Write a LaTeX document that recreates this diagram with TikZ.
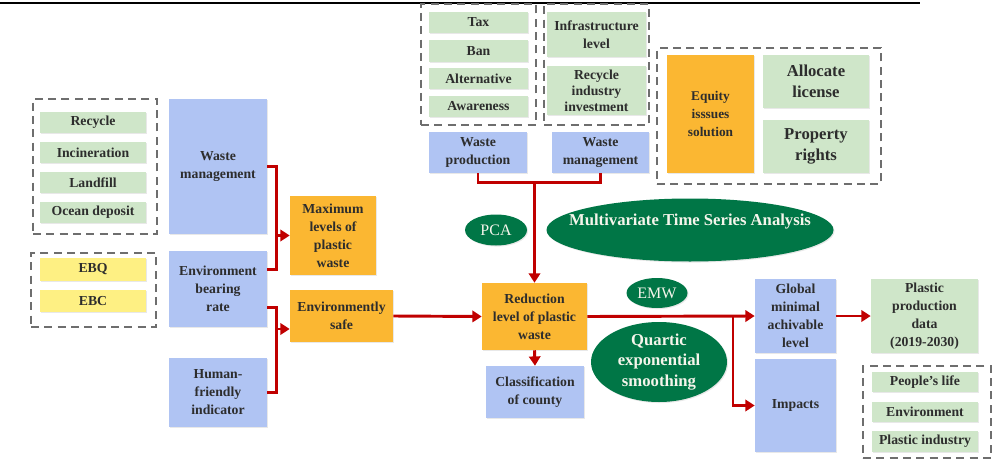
\documentclass[tikz,border=0pt]{standalone}
\usepackage{fontspec}
\setmainfont{Liberation Serif}
\usetikzlibrary{shapes.geometric,arrows.meta,calc,shadows}
\definecolor{cblue}{RGB}{176,196,243}
\definecolor{cgreen}{RGB}{207,230,201}
\definecolor{corange}{RGB}{251,183,50}
\definecolor{cyellow}{RGB}{254,240,131}
\definecolor{cdgreen}{RGB}{0,118,70}
\definecolor{cred}{RGB}{192,0,0}
\definecolor{cgray}{RGB}{110,110,110}
\definecolor{ctext}{RGB}{45,45,45}
\definecolor{cetext}{RGB}{245,245,235}
\newcommand\R[7]{\node[#6, minimum width={(#4-#2)*0.75pt}, minimum height={(#5-#3)*0.75pt}] (#1) at ({(#2+#4)/2},{(#3+#5)/2}) {#7};}
\tikzset{
  box/.style={inner sep=0pt, align=center, font=\bfseries\fontsize{10.3}{13.5}\selectfont, text=ctext,
    drop shadow={shadow xshift=0.8pt, shadow yshift=-0.8pt, opacity=0.18}},
  bl/.style={box, fill=cblue},
  gr/.style={box, fill=cgreen},
  og/.style={box, fill=corange},
  yl/.style={box, fill=cyellow},
  big/.style={font=\bfseries\fontsize{12.5}{15.5}\selectfont},
  grp/.style={draw=cgray, line width=1.4pt, dash pattern=on 6pt off 4pt, inner sep=0pt},
  ell/.style={ellipse, fill=cdgreen, inner sep=0pt, drop shadow={shadow xshift=0.8pt, shadow yshift=-0.8pt, opacity=0.18}},
  etext/.style={text=cetext, align=center},
  rl/.style={draw=cred, line width=2.2pt},
  arr/.style={rl, -{Triangle[length=7pt,width=8.5pt]}}
}
\begin{document}
\begin{tikzpicture}[x=0.75pt, y=-0.75pt]
\useasboundingbox (0,0) rectangle (998,467);
\draw[black, line width=1.5pt] (0,3) -- (920,3);

% dashed groups
\R{g1}{33}{99}{157}{234}{grp}{}
\R{g2}{31}{253}{156}{327}{grp}{}
\R{g3}{421}{4}{536}{125}{grp}{}
\R{g4}{544}{4}{649}{125}{grp}{}
\R{g5}{657}{48}{881}{184}{grp}{}
\R{g6}{863}{366}{991}{458}{grp}{}

% left column
\R{rec}{40}{112}{146}{133}{gr}{Recycle}
\R{inc}{40}{142}{146}{163}{gr}{Incineration}
\R{lan}{40}{172}{146}{193}{gr}{Landfill}
\R{oce}{40}{202}{146}{223}{gr}{Ocean deposit}
\R{ebq}{40}{258}{146}{281}{yl}{EBQ}
\R{ebc}{40}{290}{146}{312}{yl}{EBC}

\R{wm}{169}{99}{267}{234}{bl}{Waste\\management}
\R{ebr}{169}{251}{267}{327}{bl}{Environment\\bearing\\rate}
\R{hf}{169}{358}{267}{427}{bl}{Human-\\friendly\\indicator}

\R{mx}{290}{196}{376}{275}{og}{Maximum\\levels of\\plastic\\waste}
\R{es}{290}{290}{393}{342}{og}{Environmently\\safe}

% top
\R{tax}{429}{12}{528}{33}{gr}{Tax}
\R{ban}{429}{40}{528}{62}{gr}{Ban}
\R{alt}{429}{68}{528}{89}{gr}{Alternative}
\R{awa}{429}{96}{528}{117}{gr}{Awareness}
\R{inf}{547}{12}{646}{57}{gr}{Infrastructure\\level}
\R{rii}{547}{66}{646}{115}{gr,font=\bfseries\fontsize{10.3}{12}\selectfont}{Recycle\\industry\\investment}
\R{wp}{429}{132}{527}{173}{bl}{Waste\\production}
\R{wm2}{552}{132}{649}{173}{bl}{Waste\\management}

\R{eq}{667}{55}{754}{173}{og,font=\bfseries\fontsize{10}{13.5}\selectfont}{Equity\\isssues\\solution}
\R{al}{763}{55}{869}{108}{gr,big}{Allocate\\license}
\R{pr}{763}{120}{869}{173}{gr,big}{Property\\rights}

% centre
\R{red}{482}{283}{587}{350}{og}{Reduction\\level of plastic\\waste}
\R{cls}{486}{366}{584}{418}{bl}{Classification\\of county}

% ellipses
\node[ell, minimum width=62*0.75pt, minimum height=31*0.75pt] (pca) at (496,230) {};
\node[etext, font=\fontsize{12}{14}\selectfont] at (pca) {PCA};
\node[ell, minimum width=287*0.75pt, minimum height=63*0.75pt] (mts) at (690,230) {};
\node[etext, font=\bfseries\fontsize{12.5}{15}\selectfont] at ($(mts)+(0,-8)$) {Multivariate Time Series Analysis};
\node[ell, minimum width=61*0.75pt, minimum height=30*0.75pt] (emw) at (657,293) {};
\node[etext, font=\fontsize{12}{14}\selectfont] at (emw) {EMW};
\node[ell, minimum width=136*0.75pt, minimum height=80*0.75pt] (qes) at (659,362) {};
\node[etext, font=\bfseries\fontsize{12.5}{15.5}\selectfont] at (qes) {Quartic\\exponential\\smoothing};

% right
\R{gm}{755}{279}{836}{353}{bl}{Global\\minimal\\achivable\\level}
\R{imp}{755}{359}{836}{452}{bl}{Impacts}
\R{ppd}{871}{279}{978}{353}{gr}{Plastic\\production\\data\\(2019-2030)}
\R{pl}{872}{372}{978}{392}{gr}{People's life}
\R{env}{872}{402}{978}{422}{gr}{Environment}
\R{pin}{872}{431}{978}{452}{gr}{Plastic industry}

% connectors
\draw[rl] (wm.east) -- ++(9,0) coordinate (b1) |- ($(ebr.north east)+(0,19)$);
\draw[arr] (b1 |- mx.west) -- (mx.west);
\draw[rl] ($(ebr.north east)+(0,57)$) -- ++(9,0) coordinate (b2) |- (hf.east);
\draw[arr] (b2 |- {$(es.west)+(0,13)$}) -- ($(es.west)+(0,13)$);
\draw[arr] (es.east) -- (red.west);

\draw[rl] (wp.south) -- ++(0,9) coordinate (b3) -| (wm2.south);
\draw[arr] (b3 -| red.north) -- (red.north);
\draw[arr] (red.south) -- (cls.north);

\draw[arr] (red.east) -- (gm.west);
\coordinate (b4) at (733,0);
\draw[arr] (b4 |- red.east) |- (imp.west);
\draw[arr] (gm.east) -- (ppd.west);
\end{tikzpicture}
\end{document}
